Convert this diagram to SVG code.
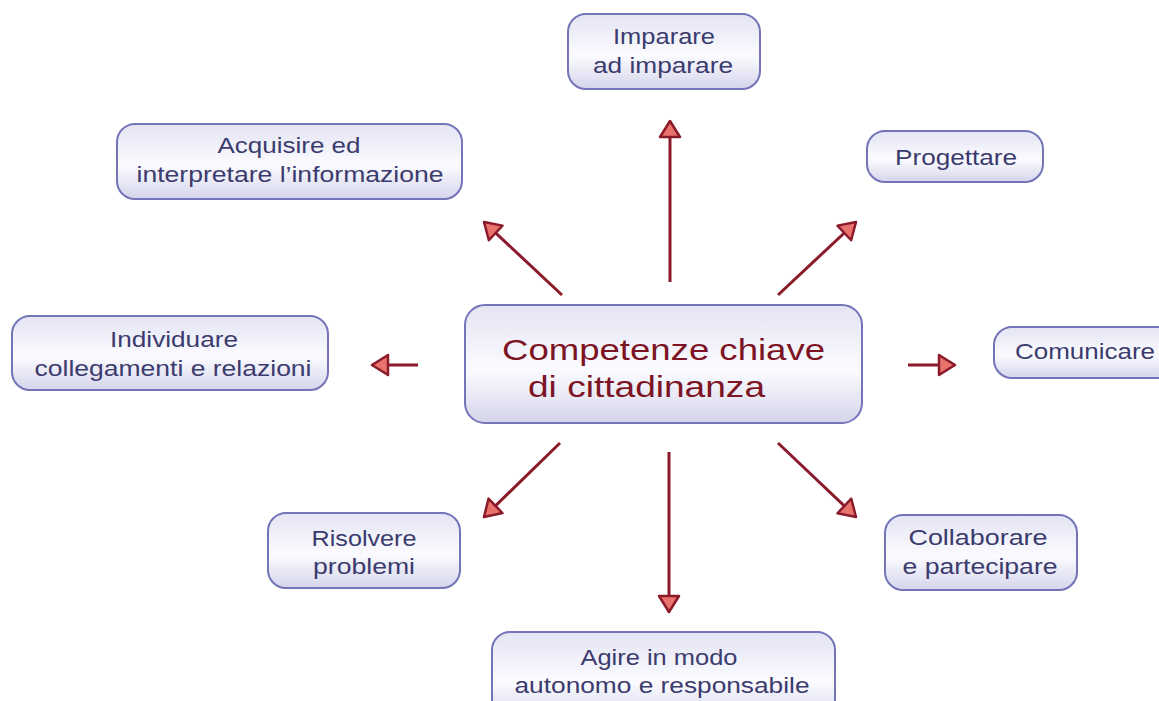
<svg xmlns="http://www.w3.org/2000/svg" width="1159" height="701" viewBox="0 0 1159 701">
<defs>
<linearGradient id="bg" x1="0" y1="0" x2="0" y2="1">
<stop offset="0" stop-color="#e4e4f4"/>
<stop offset="0.55" stop-color="#fbfbff"/>
<stop offset="1" stop-color="#d5d5ec"/>
</linearGradient>
<marker id="ah" markerUnits="userSpaceOnUse" viewBox="-20 -14 24 28" markerWidth="24" markerHeight="28" refX="0" refY="0" orient="auto">
<path d="M0,0 L-16,-10 L-16,10 Z" fill="#e8736d" stroke="#8b1a2a" stroke-width="2.5" stroke-linejoin="round"/>
</marker>
</defs>
<style>
.box{fill:url(#bg);stroke:#7474b8;stroke-width:2}
.t{font-family:"Liberation Sans",Arial,sans-serif;font-size:22px;fill:#3b3b6e;text-anchor:middle}
.c{font-family:"Liberation Sans",Arial,sans-serif;font-size:30px;fill:#7d1424}
.arr{stroke:#8b1a2a;stroke-width:3;fill:none;marker-end:url(#ah)}
</style>
<rect width="1159" height="701" fill="#ffffff"/>
<g id="connectors">
<line class="arr" x1="670" y1="282" x2="670" y2="121"/>
<line class="arr" x1="562" y1="295" x2="484" y2="222"/>
<line class="arr" x1="778" y1="295" x2="856" y2="222"/>
<line class="arr" x1="418" y1="365" x2="372" y2="365"/>
<line class="arr" x1="908" y1="365" x2="955" y2="365"/>
<line class="arr" x1="560" y1="443" x2="484" y2="517"/>
<line class="arr" x1="669" y1="452" x2="669" y2="612"/>
<line class="arr" x1="778" y1="443" x2="856" y2="517"/>
</g>
<g id="center">
<rect class="box" x="465" y="305" width="397" height="118" rx="20"/>
<text class="c" x="502" y="360" textLength="323" lengthAdjust="spacingAndGlyphs">Competenze chiave</text>
<text class="c" x="528" y="397" textLength="237" lengthAdjust="spacingAndGlyphs">di cittadinanza</text>
</g>
<g id="imparare">
<rect class="box" x="568" y="14" width="192" height="75" rx="18"/>
<text class="t" x="664" y="44" textLength="102" lengthAdjust="spacingAndGlyphs">Imparare</text>
<text class="t" x="663" y="73" textLength="140" lengthAdjust="spacingAndGlyphs">ad imparare</text>
</g>
<g id="acquisire">
<rect class="box" x="117" y="124" width="345" height="75" rx="18"/>
<text class="t" x="289" y="153" textLength="143" lengthAdjust="spacingAndGlyphs">Acquisire ed</text>
<text class="t" x="290" y="182" textLength="307" lengthAdjust="spacingAndGlyphs">interpretare l’informazione</text>
</g>
<g id="progettare">
<rect class="box" x="867" y="131" width="176" height="51" rx="18"/>
<text class="t" x="956" y="165" textLength="122" lengthAdjust="spacingAndGlyphs">Progettare</text>
</g>
<g id="individuare">
<rect class="box" x="12" y="316" width="316" height="74" rx="18"/>
<text class="t" x="174" y="347" textLength="128" lengthAdjust="spacingAndGlyphs">Individuare</text>
<text class="t" x="173" y="376" textLength="277" lengthAdjust="spacingAndGlyphs">collegamenti e relazioni</text>
</g>
<g id="comunicare">
<rect class="box" x="994" y="327" width="190" height="51" rx="18"/>
<text class="t" x="1015" y="359" style="text-anchor:start" textLength="140" lengthAdjust="spacingAndGlyphs">Comunicare</text>
</g>
<g id="risolvere">
<rect class="box" x="268" y="513" width="192" height="75" rx="18"/>
<text class="t" x="364" y="546" textLength="105" lengthAdjust="spacingAndGlyphs">Risolvere</text>
<text class="t" x="364" y="574" textLength="102" lengthAdjust="spacingAndGlyphs">problemi</text>
</g>
<g id="collaborare">
<rect class="box" x="885" y="515" width="192" height="75" rx="18"/>
<text class="t" x="978" y="545" textLength="139" lengthAdjust="spacingAndGlyphs">Collaborare</text>
<text class="t" x="980" y="574" textLength="155" lengthAdjust="spacingAndGlyphs">e partecipare</text>
</g>
<g id="agire">
<rect class="box" x="492" y="632" width="343" height="90" rx="18"/>
<text class="t" x="659" y="665" textLength="157" lengthAdjust="spacingAndGlyphs">Agire in modo</text>
<text class="t" x="662" y="693" textLength="295" lengthAdjust="spacingAndGlyphs">autonomo e responsabile</text>
</g>
</svg>
